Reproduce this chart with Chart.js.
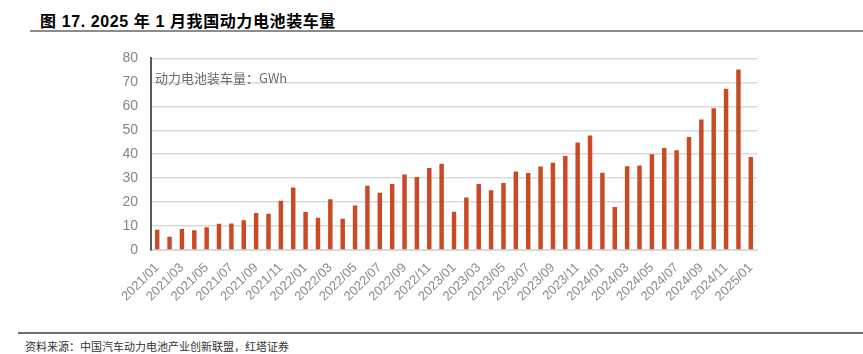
<!DOCTYPE html>
<html>
<head>
<meta charset="utf-8">
<script src="https://cdn.jsdelivr.net/npm/chart.js@4"></script>
<style>
  body { margin: 0; background: #fff; width: 863px; height: 354px; position: relative; overflow: hidden;
         font-family: "Noto Sans CJK SC", "Noto Sans", sans-serif; }
  #title { position: absolute; left: 40px; top: 8px; font-size: 16px; font-weight: bold; color: #000;
           font-family: "Liberation Sans", "Noto Sans CJK SC", sans-serif; letter-spacing: 0.6px; }
  #topline { position: absolute; left: 30px; right: 0; top: 30px; height: 2px; background: #8c8c8c; }
  #botline { position: absolute; left: 18px; right: 0; top: 332px; height: 2px; background: #6e6e6e; }
  #source { position: absolute; left: 25px; top: 338px; font-size: 11px; color: #333; }
  #unit { position: absolute; left: 155px; top: 68px; font-size: 13px; color: #6b6b6b; }
  #box { position: absolute; left: 0; top: 37px; width: 775px; height: 288px; }
</style>
</head>
<body>
<div id="title">图 17. 2025 年 1 月我国动力电池装车量</div>
<div id="topline"></div>
<div id="box"><canvas id="chart"></canvas></div>
<div id="unit">动力电池装车量：GWh</div>
<div id="botline"></div>
<div id="source">资料来源：中国汽车动力电池产业创新联盟，红塔证券</div>
<script>
// 月份 2021/01 - 2025/01
const months = [];
for (let y = 2021; y <= 2025; y++) {
    for (let m = 1; m <= 12; m++) {
        if (y === 2025 && m > 1) break;
        months.push(y + '/' + String(m).padStart(2, '0'));
    }
}

// 装车量, GWh (по картинке)
const volume = [
    8.5, 5.5, 8.8, 8.2, 9.5, 11.0, 11.1, 12.4, 15.5, 15.1, 20.6, 26.1,
    15.9, 13.5, 21.2, 13.1, 18.6, 26.8, 23.9, 27.6, 31.5, 30.5, 34.2, 36.0,
    16.0, 21.9, 27.6, 25.0, 28.0, 32.8, 32.2, 34.9, 36.4, 39.2, 44.9, 47.8,
    32.3, 18.0, 35.0, 35.3, 40.0, 42.6, 41.6, 47.2, 54.5, 59.2, 67.3, 75.4,
    38.8
];

const yTicks = [0, 10, 20, 30, 40, 50, 60, 70, 80];

const ctx = document.getElementById('chart').getContext('2d');
new Chart(ctx, {
    type: 'bar',
    data: {
        labels: months,
        datasets: [{
            data: volume,
            backgroundColor: '#c94a25',
            barPercentage: 0.36,
            categoryPercentage: 1
        }]
    },
    options: {
        responsive: true,
        maintainAspectRatio: false,
        animation: false,
        layout: { padding: { top: 3, right: 18, left: 0, bottom: 0 } },
        plugins: { legend: { display: false }, tooltip: { enabled: false } },
        scales: {
            x: {
                grid: { display: false, drawTicks: false },
                border: { color: '#d9d9d9', width: 2 },
                ticks: {
                    autoSkip: false,
                    minRotation: 45,
                    maxRotation: 45,
                    padding: 10,
                    color: '#8c8c8c',
                    font: { family: 'Liberation Sans', size: 13 },
                    callback: function (v, i) { return i % 2 === 0 ? months[i] : ''; }
                },
                afterFit: function (s) { s.height = 75; }
            },
            y: {
                min: 0,
                max: 80,
                afterBuildTicks: function (s) { s.ticks = yTicks.map(v => ({ value: v })); },
                grid: { color: '#d9d9d9', lineWidth: 1.5, drawTicks: false },
                border: { color: '#595959', width: 2 },
                ticks: {
                    padding: 13,
                    color: '#858585',
                    font: { family: 'Liberation Sans', size: 14 }
                },
                afterFit: function (s) { s.width = 151; }
            }
        }
    }
});
</script>
</body>
</html>
